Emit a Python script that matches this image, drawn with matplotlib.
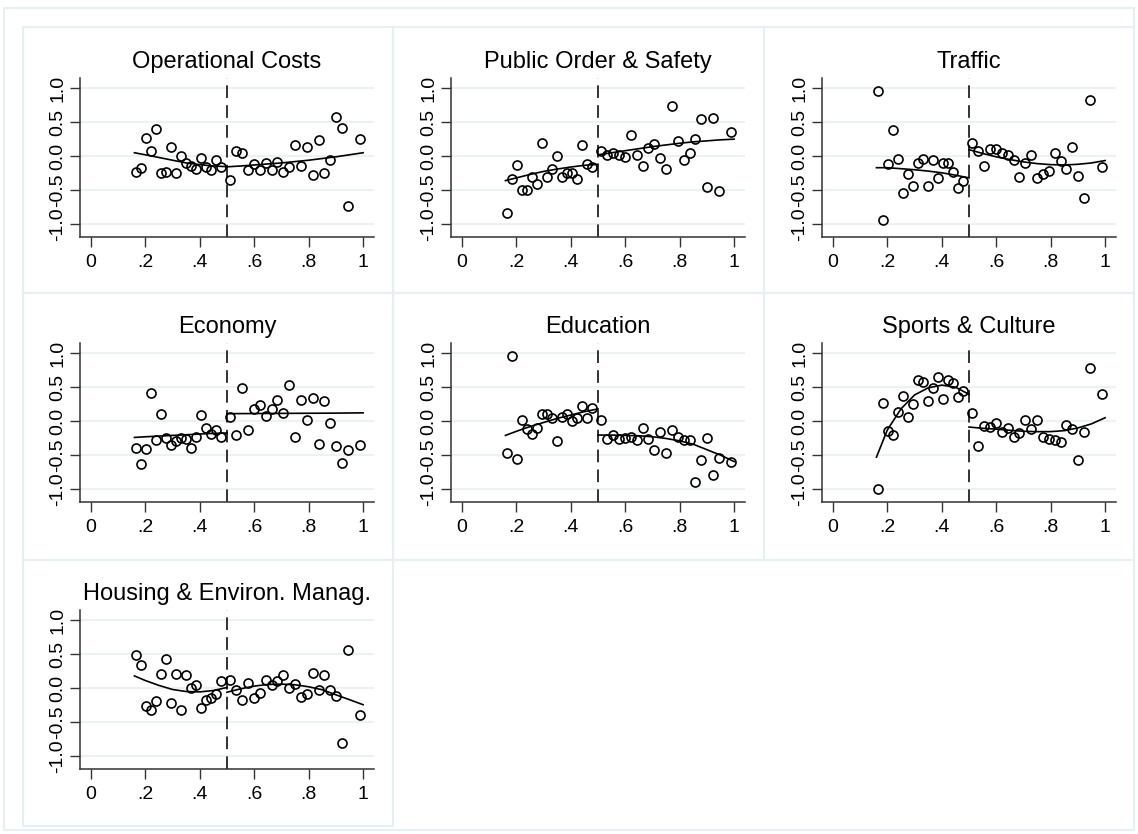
import matplotlib
matplotlib.use('Agg')
import matplotlib.pyplot as plt
from matplotlib.patches import Rectangle

plt.rcParams['font.family'] = ['Liberation Sans', 'DejaVu Sans']

# bin midpoints (vote share)
BIN_X_LEFT = [0.165, 0.184, 0.202, 0.221, 0.239, 0.258, 0.276, 0.294, 0.313,
              0.331, 0.350, 0.368, 0.387, 0.405, 0.423, 0.442, 0.460, 0.479]
BIN_X_RIGHT = [0.510, 0.532, 0.555, 0.577, 0.599, 0.620, 0.642, 0.664, 0.685,
               0.707, 0.728, 0.750, 0.772, 0.794, 0.815, 0.837, 0.858, 0.880,
               0.901, 0.923, 0.945, 0.988]
FIT_X_LEFT = [0.16, 0.20, 0.25, 0.30, 0.35, 0.40, 0.45, 0.50]
FIT_X_RIGHT = [0.50, 0.55, 0.60, 0.65, 0.70, 0.75, 0.80, 0.85, 0.90, 0.95, 1.00]

titles = ['Operational Costs', 'Public Order & Safety', 'Traffic',
          'Economy', 'Education', 'Sports & Culture',
          'Housing & Environ. Manag.']

# binned means, left of cutoff
ops_left = [-.235, -.17, .27, .083, .40, -.255, -.24, .137, -.255, 0.0, -.1,
            -.147, -.196, -.025, -.157, -.21, -.06, -.162]
pub_left = [-.83, -.333, -.127, -.495, -.495, -.304, -.41, .19, -.304, -.19,
            .005, -.304, -.255, -.255, -.333, .157, -.113, -.167]
tra_left = [.964, -.944, -.113, .39, -.041, -.549, -.267, -.441, -.103, -.041,
            -.446, -.062, -.318, -.103, -.103, -.236, -.467, -.359]
eco_left = [-.39, -.624, -.415, .415, -.278, .107, -.244, -.351, -.288, -.254,
            -.259, -.4, -.234, .093, -.102, -.19, -.137, -.229]
edu_left = [-.463, .961, -.561, .024, -.122, -.195, -.107, .102, .102, .049,
            -.288, .054, .102, .005, .044, .229, .049, .195]
spo_left = [-1.0, .272, -.144, -.205, .138, .364, .067, .256, .605, .579,
            .292, .487, .656, .328, .6, .554, .354, .446]
hou_left = [.493, .346, -.259, -.322, -.185, .205, .429, -.22, .205, -.317,
            .195, 0.0, .044, -.293, -.18, -.146, -.083, .107]

# binned means, right of cutoff
ops_right = [-.35, .07, .04, -.206, -.12, -.2, -.108, -.21, -.09, -.235, -.157,
             .167, -.152, .137, -.275, .24, -.245, -.05, .57, .407, -.73, .255]
pub_right = [.074, .015, .05, .015, -.015, .314, .02, -.152, .118, .176, -.02,
             -.196, .745, .23, -.054, .05, .245, .54, -.46, .564, -.515, .353]
tra_right = [.195, .072, -.149, .108, .108, .051, .021, -.056, -.308, -.097,
             .021, -.328, -.267, -.215, .051, -.072, -.195, .128, -.287, -.615,
             .826, -.159]
eco_right = [.063, -.21, .488, -.127, .18, .239, .083, .18, .317, .122, .532,
             -.229, .317, .02, .341, -.332, .293, -.02, -.366, -.61, -.42, -.351]
edu_right = [.01, -.268, -.2, -.259, -.254, -.239, -.273, -.098, -.259, -.42,
             -.161, -.463, -.127, -.234, -.273, -.283, -.902, -.566, -.254,
             -.79, -.541, -.605]
spo_right = [.118, -.359, -.072, -.092, -.026, -.164, -.108, -.231, -.18, .015,
             -.123, .015, -.231, -.256, -.282, -.313, -.056, -.118, -.574,
             -.164, .785, .4]
hou_right = [.122, -.024, -.176, .078, -.141, -.073, .117, .039, .107, .19,
             -.005, .054, -.137, -.083, .22, -.02, .2, -.024, -.112, -.805,
             .566, -.39]

# polynomial fit lines
ops_fit_l = [.05, .02, -.02, -.06, -.10, -.125, -.145, -.155]
pub_fit_l = [-.36, -.32, -.27, -.225, -.19, -.16, -.135, -.12]
tra_fit_l = [-.17, -.17, -.185, -.20, -.22, -.245, -.28, -.32]
eco_fit_l = [-.24, -.23, -.22, -.21, -.20, -.19, -.18, -.175]
edu_fit_l = [-.21, -.15, -.08, -.02, .04, .09, .14, .18]
spo_fit_l = [-.53, -.13, .18, .385, .49, .53, .50, .395]
hou_fit_l = [.18, .112, .04, -.02, -.05, -.055, -.035, .01]

ops_fit_r = [-.157, -.145, -.13, -.115, -.10, -.08, -.06, -.035, -.01, .02, .05]
pub_fit_r = [.02, .05, .08, .11, .14, .165, .19, .21, .225, .24, .25]
tra_fit_r = [.095, .04, -.01, -.05, -.085, -.11, -.125, -.13, -.12, -.10, -.065]
eco_fit_r = [.11, .111, .112, .113, .114, .115, .116, .117, .118, .12, .122]
edu_fit_r = [-.205, -.205, -.21, -.215, -.23, -.255, -.29, -.34, -.42, -.50, -.595]
spo_fit_r = [-.087, -.105, -.118, -.135, -.149, -.155, -.154, -.14, -.10, -.04, .05]
hou_fit_r = [-.06, -.01, .03, .054, .059, .05, .02, -.024, -.098, -.17, -.244]

left_vals = [ops_left, pub_left, tra_left, eco_left, edu_left, spo_left, hou_left]
right_vals = [ops_right, pub_right, tra_right, eco_right, edu_right, spo_right, hou_right]
fit_left = [ops_fit_l, pub_fit_l, tra_fit_l, eco_fit_l, edu_fit_l, spo_fit_l, hou_fit_l]
fit_right = [ops_fit_r, pub_fit_r, tra_fit_r, eco_fit_r, edu_fit_r, spo_fit_r, hou_fit_r]

W, H = 1138, 834
fig = plt.figure(figsize=(W / 100, H / 100), dpi=100)
fig.patch.set_facecolor('white')

border = '#e6eff1'
# outer frame and panel frames (Stata graph region look)
fig.patches.append(Rectangle((4 / W, 1 - 830 / H), 1130 / W, 822 / H,
                             transform=fig.transFigure, fill=False,
                             edgecolor=border, linewidth=1.5))
col_edges = [23, 393, 764, 1134]
row_edges = [27, 293, 560, 826]
for i in range(7):
    r, c = divmod(i, 3)
    x0, x1 = col_edges[c], col_edges[c + 1]
    y0, y1 = row_edges[r], row_edges[r + 1]
    fig.patches.append(Rectangle((x0 / W, 1 - y1 / H), (x1 - x0) / W, (y1 - y0) / H,
                                 transform=fig.transFigure, fill=False,
                                 edgecolor=border, linewidth=1.5))

ax_left = [80, 451, 822]
ax_top = [78, 343, 610]
ax_w, ax_h = 294, 159

for i, title in enumerate(titles):
    r, c = divmod(i, 3)
    l, t = ax_left[c], ax_top[r]
    ax = fig.add_axes([l / W, 1 - (t + ax_h) / H, ax_w / W, ax_h / H])
    ax.set_xlim(-0.04, 1.04)
    ax.set_ylim(-1.19, 1.15)

    for yv in [-1.0, -0.5, 0.0, 0.5, 1.0]:
        ax.axhline(yv, color='#eaf2f3', linewidth=1.5, zorder=0)

    ax.axvline(0.5, color='#222222', linewidth=1.3, dashes=(7, 4), zorder=2)

    ax.plot(FIT_X_LEFT, fit_left[i], color='black', linewidth=1.2, zorder=3)
    ax.plot(FIT_X_RIGHT, fit_right[i], color='black', linewidth=1.2, zorder=3)

    ax.plot(BIN_X_LEFT, left_vals[i], 'o', markersize=6.5, markerfacecolor='none',
            markeredgecolor='black', markeredgewidth=1.2, zorder=4)
    ax.plot(BIN_X_RIGHT, right_vals[i], 'o', markersize=6.5, markerfacecolor='none',
            markeredgecolor='black', markeredgewidth=1.2, zorder=4)

    ax.set_xticks([0, 0.2, 0.4, 0.6, 0.8, 1.0])
    ax.set_xticklabels(['0', '.2', '.4', '.6', '.8', '1'])
    ax.set_yticks([-1.0, -0.5, 0.0, 0.5, 1.0])
    ax.set_yticklabels(['-1.0', '-0.5', '0.0', '0.5', '1.0'], rotation=90, va='center')

    ax.tick_params(axis='both', direction='out', length=7, width=1,
                   color='#333333', labelsize=14)
    ax.tick_params(axis='x', pad=5)
    ax.tick_params(axis='y', pad=3)
    for side in ['top', 'right']:
        ax.spines[side].set_visible(False)
    for side in ['left', 'bottom']:
        ax.spines[side].set_color('#333333')
        ax.spines[side].set_linewidth(1.1)
    ax.set_facecolor('none')

    ax.set_title(title, fontsize=17, pad=7)

fig.savefig('out.png', dpi=100)
